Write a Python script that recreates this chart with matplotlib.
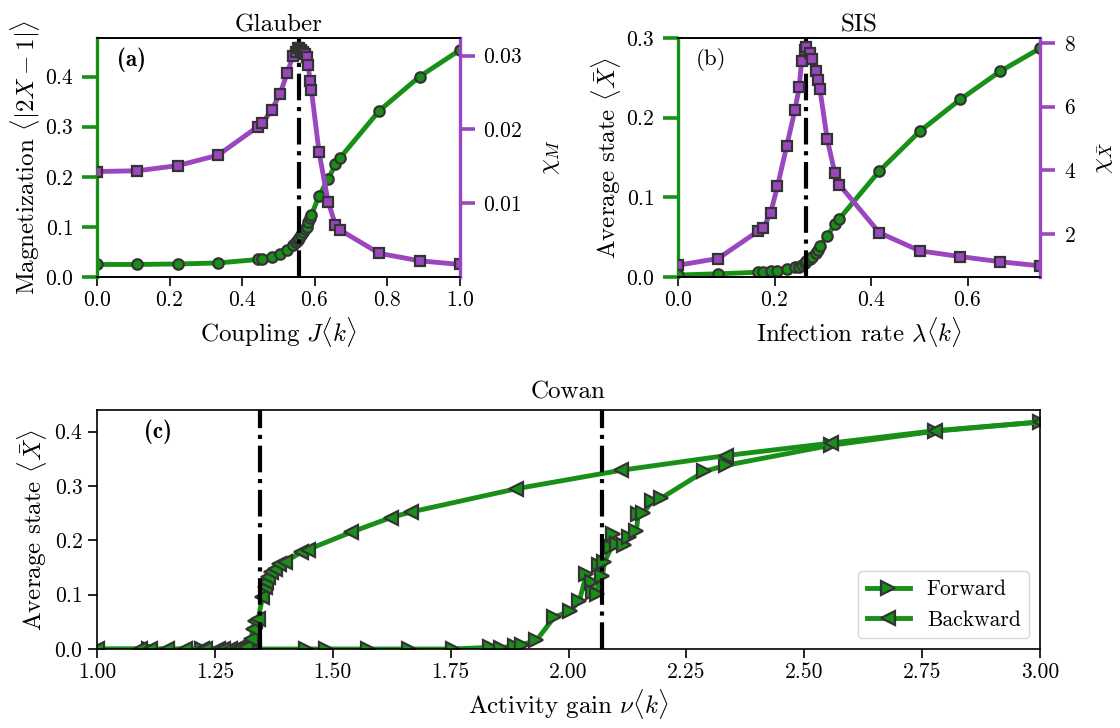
import matplotlib
matplotlib.use("Agg")
import matplotlib.pyplot as plt
import numpy as np

plt.rcParams['font.family'] = 'serif'
plt.rcParams['font.serif'] = ['cmr10']
plt.rcParams['mathtext.fontset'] = 'cm'
plt.rcParams['axes.formatter.use_mathtext'] = True
plt.rcParams['font.size'] = 15.5
plt.rcParams['axes.labelsize'] = 18
plt.rcParams['axes.titlesize'] = 18

GREEN = '#189018'
PURPLE = '#9a46bf'
EDGE = '#333333'

# ---- Glauber (a)
J = [0.0, 0.111, 0.222, 0.333, 0.444, 0.456, 0.481, 0.504, 0.524, 0.540, 0.548,
     0.553, 0.558, 0.563, 0.568, 0.573, 0.578, 0.582, 0.587, 0.591, 0.612, 0.637,
     0.657, 0.669, 0.778, 0.889, 1.0]
mag = [0.025, 0.025, 0.026, 0.028, 0.035, 0.036, 0.040, 0.045, 0.053, 0.064, 0.070,
       0.074, 0.078, 0.084, 0.090, 0.096, 0.100, 0.110, 0.117, 0.124, 0.162, 0.195,
       0.225, 0.237, 0.332, 0.400, 0.453]
chi_M = [0.0143, 0.0144, 0.0151, 0.0165, 0.0204, 0.0209, 0.0226, 0.0248, 0.0276, 0.0300, 0.0305,
         0.0311, 0.0310, 0.0308, 0.0305, 0.0302, 0.0298, 0.0287, 0.0266, 0.0253, 0.0169, 0.0102,
         0.0071, 0.0064, 0.0032, 0.0022, 0.0017]
J_crit = 0.557

# ---- SIS (b)
lam = [0.0, 0.083, 0.166, 0.177, 0.192, 0.206, 0.225, 0.242, 0.251, 0.256, 0.263,
       0.266, 0.273, 0.277, 0.286, 0.291, 0.294, 0.309, 0.325, 0.334, 0.417, 0.501,
       0.585, 0.667, 0.75]
x_sis = [0.0025, 0.004, 0.006, 0.006, 0.007, 0.008, 0.010, 0.012, 0.013, 0.015, 0.018,
         0.020, 0.0225, 0.025, 0.030, 0.034, 0.039, 0.052, 0.066, 0.073, 0.133, 0.183,
         0.223, 0.258, 0.287]
chi_X = [1.02, 1.23, 2.09, 2.2, 2.67, 3.5, 4.75, 5.88, 6.6, 7.44, 7.77,
         7.87, 7.67, 7.48, 7.13, 6.83, 6.54, 4.98, 3.9, 3.55, 2.04, 1.47,
         1.29, 1.13, 1.0]
lam_crit = 0.266

# ---- Cowan (c)
nu_fwd = [1.0, 1.111, 1.222, 1.333, 1.444, 1.486, 1.574, 1.662, 1.754, 1.833, 1.856,
          1.886, 1.902, 1.932, 1.970, 2.004, 2.023, 2.038, 2.049, 2.052, 2.061, 2.064,
          2.072, 2.076, 2.091, 2.095, 2.102, 2.117, 2.129, 2.144, 2.148, 2.159, 2.178,
          2.197, 2.288, 2.333, 2.556, 2.778, 3.0]
x_fwd = [0.0, 0.0, 0.0, 0.0, 0.0, 0.0, 0.0, 0.0, 0.0, 0.003, 0.002,
         0.006, 0.008, 0.016, 0.059, 0.070, 0.089, 0.138, 0.123, 0.105, 0.102, 0.154,
         0.135, 0.160, 0.187, 0.212, 0.194, 0.191, 0.206, 0.218, 0.249, 0.250, 0.273,
         0.278, 0.327, 0.338, 0.375, 0.401, 0.418]
nu_bwd = [1.0, 1.092, 1.113, 1.148, 1.187, 1.222, 1.229, 1.257, 1.268, 1.282, 1.296,
          1.306, 1.317, 1.327, 1.330, 1.335, 1.342, 1.351, 1.356, 1.359, 1.363, 1.370,
          1.377, 1.387, 1.398, 1.433, 1.447, 1.539, 1.623, 1.665, 1.889, 2.111, 2.333,
          2.556, 2.778, 3.0]
x_bwd = [0.0, 0.0, 0.0, 0.0, 0.0, 0.0, 0.0, 0.0, 0.0, 0.0, 0.001,
         0.002, 0.004, 0.019, 0.037, 0.052, 0.056, 0.095, 0.114, 0.123, 0.132, 0.141,
         0.148, 0.157, 0.160, 0.178, 0.183, 0.215, 0.242, 0.252, 0.295, 0.329, 0.356,
         0.379, 0.402, 0.418]
nu_crit = [1.345, 2.072]

line_kw = dict(lw=3.5, mec=EDGE, mew=1.6, ms=7.5)
tri_kw = dict(lw=3.5, mec=EDGE, mew=1.6, ms=9.5)


def twin_panel(ax, x, y1, y2, crit):
    ax.plot(x, y1, color=GREEN, marker='o', **line_kw)
    ax.axvline(crit, color='k', ls='-.', lw=3)
    ax2 = ax.twinx()
    ax2.plot(x, y2, color=PURPLE, marker='s', **line_kw)
    ax.spines['left'].set_color(GREEN)
    ax.spines['left'].set_linewidth(2.4)
    ax.spines['right'].set_visible(False)
    ax2.spines['left'].set_visible(False)
    ax2.spines['right'].set_color(PURPLE)
    ax2.spines['right'].set_linewidth(2.4)
    for a in (ax, ax2):
        a.spines['top'].set_linewidth(1.2)
        a.spines['bottom'].set_linewidth(1.2)
    ax.tick_params(axis='y', color=GREEN, length=11, width=2.6, pad=6)
    ax2.tick_params(axis='y', color=PURPLE, length=11, width=2.6, pad=6)
    ax.tick_params(axis='x', length=6.5, width=1.2)
    return ax2


fig = plt.figure(figsize=(11.2, 7.28), dpi=100)
axa = fig.add_axes([0.0866, 0.6195, 0.324, 0.3283])
axb = fig.add_axes([0.6054, 0.6195, 0.3232, 0.3283])
axc = fig.add_axes([0.0866, 0.1085, 0.842, 0.3283])

# (a)
axa2 = twin_panel(axa, J, mag, chi_M, J_crit)
axa.set_xlim(0, 1.0)
axa.set_ylim(0, 0.477)
axa2.set_ylim(0, 0.0324)
axa.set_yticks([0.0, 0.1, 0.2, 0.3, 0.4])
axa2.set_yticks([0.01, 0.02, 0.03])
axa.set_xticks([0.0, 0.2, 0.4, 0.6, 0.8, 1.0])
axa.set_xlabel(r'Coupling $J\langle k\rangle$', labelpad=3)
axa.set_ylabel(r'Magnetization $\langle|2X-1|\rangle$', labelpad=2)
axa2.set_ylabel(r'$\chi_M$', labelpad=12)
axa.set_title('Glauber', pad=5)
axa.text(0.055, 0.91, '(a)', transform=axa.transAxes, fontfamily='cmb10',
         fontsize=16.5, va='center')

# (b)
axb2 = twin_panel(axb, lam, x_sis, chi_X, lam_crit)
axb.set_xlim(0, 0.75)
axb.set_ylim(0, 0.3)
axb2.set_ylim(0.65, 8.15)
axb.set_yticks([0.0, 0.1, 0.2, 0.3])
axb2.set_yticks([2, 4, 6, 8])
axb.set_xticks([0.0, 0.2, 0.4, 0.6])
axb.set_xlabel(r'Infection rate $\lambda\langle k\rangle$', labelpad=3)
axb.set_ylabel(r'Average state $\langle\bar{X}\rangle$', labelpad=2)
axb2.set_ylabel(r'$\chi_{\bar{X}}$', labelpad=12)
axb.set_title('SIS', pad=5)
axb.text(0.05, 0.91, '(b)', transform=axb.transAxes, fontsize=16.5, va='center')

# (c)
axc.plot(nu_fwd, x_fwd, color=GREEN, marker='>', label='Forward', **tri_kw)
axc.plot(nu_bwd, x_bwd, color=GREEN, marker='<', label='Backward', **tri_kw)
for c in nu_crit:
    axc.axvline(c, color='k', ls='-.', lw=3)
axc.set_xlim(1.0, 3.0)
axc.set_ylim(0, 0.44)
axc.set_yticks([0.0, 0.1, 0.2, 0.3, 0.4])
axc.set_xticks([1.0, 1.25, 1.5, 1.75, 2.0, 2.25, 2.5, 2.75, 3.0])
axc.set_xticklabels(['1.00', '1.25', '1.50', '1.75', '2.00', '2.25', '2.50', '2.75', '3.00'])
for s in axc.spines.values():
    s.set_linewidth(1.2)
axc.tick_params(length=6.5, width=1.2)
axc.set_xlabel(r'Activity gain $\nu\langle k\rangle$', labelpad=3)
axc.set_ylabel(r'Average state $\langle\bar{X}\rangle$', labelpad=4)
axc.set_title('Cowan', pad=8)
axc.text(0.05, 0.91, '(c)', transform=axc.transAxes, fontfamily='cmb10',
         fontsize=16.5, va='center')
axc.legend(loc='lower right', fontsize=15.5)

plt.savefig('out.png', dpi=100)
